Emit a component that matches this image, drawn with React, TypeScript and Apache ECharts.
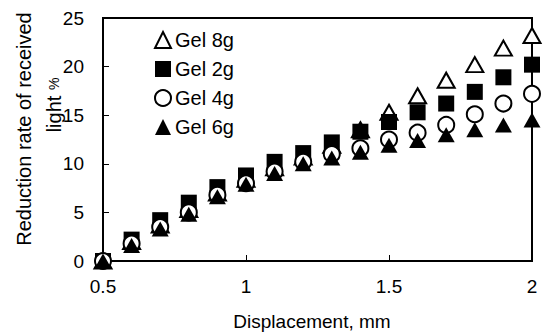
import React, { useEffect, useRef } from "react";
import * as echarts from "echarts";

const displacement = [0.5, 0.6, 0.7, 0.8, 0.9, 1.0, 1.1, 1.2, 1.3, 1.4, 1.5, 1.6, 1.7, 1.8, 1.9, 2.0];
const gel8g = [0, 2.0, 3.7, 5.3, 7.0, 8.4, 9.6, 10.7, 11.9, 13.5, 15.3, 17.0, 18.6, 20.2, 21.9, 23.2];
const gel2g = [0, 2.2, 4.2, 6.0, 7.6, 8.8, 10.2, 11.1, 12.2, 13.3, 14.3, 15.3, 16.2, 17.4, 18.9, 20.2];
const gel4g = [0, 1.8, 3.5, 5.0, 6.8, 8.0, 9.2, 10.2, 11.0, 11.6, 12.5, 13.2, 14.0, 15.1, 16.2, 17.2];
const gel6g = [0, 1.6, 3.3, 4.8, 6.6, 7.9, 9.0, 10.0, 10.6, 11.2, 11.9, 12.4, 13.0, 13.5, 14.0, 14.5];
const yTicks = { min: 0, max: 25, interval: 5 };
const xTicks = { min: 0.5, max: 2, interval: 0.5 };
const xTitle = "Displacement, mm";
const yTitle1 = "Reduction rate of received";
const yTitle2a = "light ";
const yTitle2b = "%";

const FONT = "'Liberation Sans', Arial, sans-serif";

function pairs(vals: number[]) {
  return vals.map((v, i) => [displacement[i], v]);
}

export default function App() {
  const ref = useRef<HTMLDivElement>(null);
  useEffect(() => {
    if (!ref.current) return;
    document.body.style.margin = "0";
    const chart = echarts.init(ref.current, null, { renderer: "svg" });
    const mk = (name: string, data: number[], symbol: string, size: any, fill: string) => ({
      name,
      type: "scatter",
      data: pairs(data),
      symbol,
      symbolSize: size,
      clip: false,
      itemStyle: { color: fill, borderColor: "#000", borderWidth: fill === "#fff" ? 2 : 0, opacity: 1 },
      emphasis: { disabled: true },
    });
    chart.setOption({
      animation: false,
      backgroundColor: "#fff",
      grid: {
        left: 103,
        right: 12,
        top: 18,
        bottom: 72,
        show: true,
        borderColor: "#000",
        borderWidth: 2,
        backgroundColor: "transparent",
      },
      legend: {
        orient: "vertical",
        left: 154,
        top: 30,
        padding: 0,
        itemWidth: 16,
        itemHeight: 16,
        itemGap: 9,
        textStyle: { fontFamily: FONT, fontSize: 20, color: "#000", padding: [0, 0, 0, -1] },
        data: ["Gel 8g", "Gel 2g", "Gel 4g", "Gel 6g"],
      },
      xAxis: {
        type: "value",
        min: xTicks.min,
        max: xTicks.max,
        interval: xTicks.interval,
        splitLine: { show: false },
        axisLine: { show: true, onZero: false, lineStyle: { color: "#000", width: 2 } },
        axisTick: { show: true, inside: true, length: 6, lineStyle: { color: "#000", width: 1 } },
        axisLabel: { fontFamily: FONT, fontSize: 19, color: "#000", margin: 16 },
      },
      yAxis: {
        type: "value",
        min: yTicks.min,
        max: yTicks.max,
        interval: yTicks.interval,
        splitLine: { show: false },
        axisLine: { show: true, lineStyle: { color: "#000", width: 2 } },
        axisTick: { show: true, inside: true, length: 6, lineStyle: { color: "#000", width: 1 } },
        axisLabel: { fontFamily: FONT, fontSize: 19, color: "#000", margin: 19 },
      },
      graphic: [
        {
          type: "text",
          x: 312,
          y: 321,
          style: {
            text: xTitle,
            font: `19px ${FONT}`,
            fill: "#000",
            textAlign: "center",
            textVerticalAlign: "middle",
          },
        },
        {
          type: "text",
          x: 24,
          y: 129,
          rotation: Math.PI / 2,
          style: {
            text: yTitle1,
            font: `20px ${FONT}`,
            fill: "#000",
            textAlign: "center",
            textVerticalAlign: "middle",
          },
        },
        {
          type: "text",
          x: 54,
          y: 105,
          rotation: Math.PI / 2,
          style: {
            text: `{a|${yTitle2a}}{b|${yTitle2b}}`,
            rich: {
              a: { fontFamily: FONT, fontSize: 20, fill: "#000", color: "#000" },
              b: { fontFamily: FONT, fontSize: 14, fill: "#000", color: "#000" },
            },
            textAlign: "center",
            textVerticalAlign: "middle",
          },
        },
      ],
      series: [
        mk("Gel 8g", gel8g, "triangle", [17, 15], "#fff"),
        mk("Gel 2g", gel2g, "rect", [16, 16], "#000"),
        mk("Gel 4g", gel4g, "circle", 16, "#fff"),
        mk("Gel 6g", gel6g, "triangle", [17, 15], "#000"),
      ],
    });
    return () => chart.dispose();
  }, []);
  return <div ref={ref} style={{ width: 544, height: 333 }} />;
}
